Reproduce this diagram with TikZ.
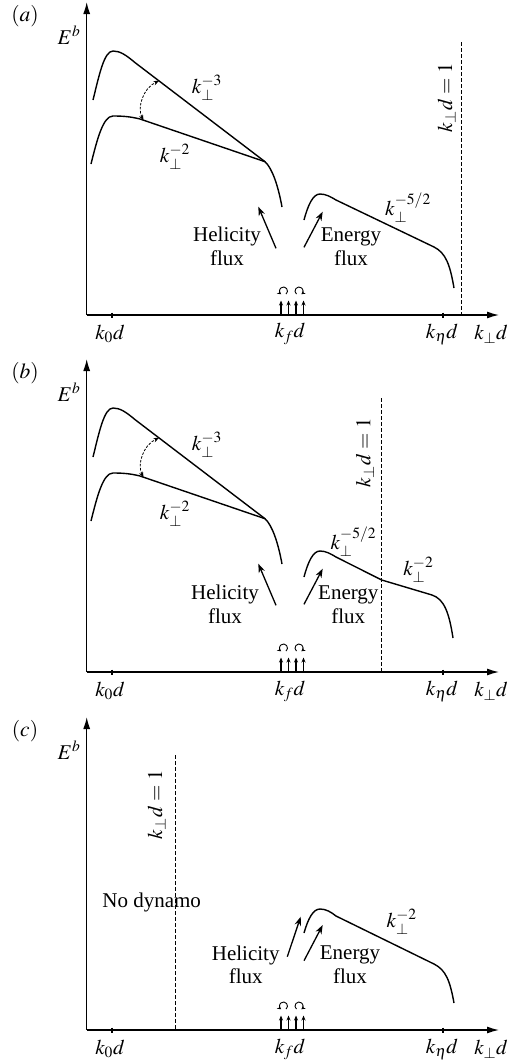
\documentclass[tikz,border=0pt]{standalone}
\usepackage{mathptmx}
\usepackage{fontspec}
\setmainfont{Liberation Serif}
\usepackage{tikz}
\usetikzlibrary{arrows.meta}
\tikzset{
  axis/.style={line width=1.3pt, -{Latex[length=12pt,width=7pt]}},
  spectrum/.style={line width=1.4pt, line join=round},
  cutoff/.style={line width=0.8pt, dash pattern=on 3.5pt off 2.5pt},
  tickmark/.style={line width=1.6pt},
  fluxarrow/.style={line width=1.3pt, -{Stealth[length=9pt,width=6.5pt]}},
  force/.style={line width=1.1pt, -{Stealth[length=5pt,width=4pt]}},
  swirl/.style={line width=0.9pt, -{Stealth[length=4pt,width=4pt]}},
  transfer/.style={line width=0.8pt, dash pattern=on 2.5pt off 1.5pt,
                   {Stealth[length=5.5pt,width=4.5pt]}-{Stealth[length=5.5pt,width=4.5pt]}},
  txt/.style={font=\fontsize{21}{23.5}\selectfont, inner sep=0pt, align=center},
  slopelabel/.style={txt},
  paneltag/.style={font=\fontsize{21.5}{24}\selectfont, inner sep=0pt}
}
\newcommand{\spectrumframe}[1]{%
  % Axes, the three marked wavenumbers and the forcing at k_f.
  \coordinate (#1-origin) at (86.7,315);
  \coordinate (#1-ytop) at (86.7,2);
  \coordinate (#1-xend) at (499,315);
  \draw[axis] (#1-origin) -- (#1-ytop);
  \draw[axis] (#1-origin) -- (#1-xend);
  \node[paneltag] (#1-tag) at (25,16) {$(#1)$};
  \node[txt] (#1-Eb) at (69,35) {$E^b$};
  \draw[tickmark] (111.7,312.5) -- (111.7,317.5);
  \draw[tickmark] (443,312.5) -- (443,317.5);
  \node[txt] (#1-k0) at (110,334) {$k_0 d$};
  \node[txt] (#1-kf) at (290,334) {$k_f d$};
  \node[txt] (#1-keta) at (442,334) {$k_\eta d$};
  \node[txt] (#1-kperp) at (491,334) {$k_\perp d$};
  \foreach \fx in {281,288.5,296,303.5}
    \draw[force] (\fx,315) -- (\fx,300.5);
  \draw[swirl] (283.5,291) ++(50:4) arc[start angle=50, end angle=-235, radius=4];
  \draw[swirl] (299,291) ++(130:4) arc[start angle=130, end angle=415, radius=4];
}
\newcommand{\inversepair}[1]{%
  % Two large-scale spectra joined by the dashed exchange arrow.
  \draw[spectrum] (93,100) .. controls (99,76) and (104,51) .. (113,51)
    .. controls (120,51) and (126,55) .. (135,62.6) -- (265,161.7)
    .. controls (272,168) and (278,185) .. (282,207);
  \draw[spectrum] (91,164) .. controls (97,140) and (103,116) .. (113,116)
    .. controls (122,116) and (130,116.5) .. (140,119) -- (265,161.7);
  \coordinate (#1-low) at (143.5,120.2);
  \coordinate (#1-up) at (159,80.9);
  \draw[transfer] (#1-low) .. controls (137,108) and (143,88) .. (#1-up);
  \node[slopelabel] (#1-m3) at (207,88) {$k_\perp^{-3}$};
  \node[slopelabel] (#1-m2) at (175,157) {$k_\perp^{-2}$};
}

\begin{document}
\begin{tikzpicture}[x=1pt,y=-1pt]
  \path[use as bounding box] (0,0) rectangle (509,1060);

  % -------------------------------------------------------------------------
  % (a) cut-off beyond the dissipation scale
  \spectrumframe{a}
  \inversepair{a}
  \coordinate (a-cut-top) at (461.7,42);
  \coordinate (a-cut-bot) at (461.7,315);
  \draw[cutoff] (a-cut-top) -- (a-cut-bot);
  \node[txt,rotate=90] (a-cut) at (446.7,98) {$k_\perp d = 1$};
  \draw[spectrum] (304,220) .. controls (308,205) and (313,194) .. (320,194)
    .. controls (326,194) and (331,197) .. (336,200) -- (434,247)
    .. controls (446,253) and (450,265) .. (454,288);
  \node[slopelabel] (a-m52) at (408,208) {$k_\perp^{-5/2}$};
  \node[txt] (a-hel) at (227,246.5) {Helicity\\flux};
  \node[txt] (a-ene) at (351,246.5) {Energy\\flux};
  \coordinate (a-hel-tail) at (276,248.3);
  \coordinate (a-hel-head) at (258.3,206.7);
  \coordinate (a-ene-tail) at (304,247.3);
  \coordinate (a-ene-head) at (322.7,211.7);
  \draw[fluxarrow] (a-hel-tail) -- (a-hel-head);
  \draw[fluxarrow] (a-ene-tail) -- (a-ene-head);

  % -------------------------------------------------------------------------
  % (b) cut-off inside the inertial range
  \begin{scope}[yshift=-357pt]
    \spectrumframe{b}
    \inversepair{b}
    \coordinate (b-cut-top) at (381.7,41);
    \coordinate (b-cut-bot) at (381.7,315);
    \draw[cutoff] (b-cut-top) -- (b-cut-bot);
    \node[txt,rotate=90] (b-cut) at (365,96) {$k_\perp d = 1$};
    \draw[spectrum] (304,220) .. controls (308,205) and (313,194) .. (320,194)
      .. controls (326,194) and (331,197) .. (336,200) -- (381.7,223)
      -- (432,238) .. controls (444,242) and (449,255) .. (453,281);
    \node[slopelabel] (b-m52) at (353.3,184.7) {$k_\perp^{-5/2}$};
    \node[slopelabel] (b-m2r) at (418.3,213) {$k_\perp^{-2}$};
    \node[txt] (b-hel) at (225,247.5) {Helicity\\flux};
    \node[txt] (b-ene) at (348.3,247.5) {Energy\\flux};
    \coordinate (b-hel-tail) at (276,248.3);
    \coordinate (b-hel-head) at (258.3,206.7);
    \coordinate (b-ene-tail) at (304,247.3);
    \coordinate (b-ene-head) at (322.7,211.7);
    \draw[fluxarrow] (b-hel-tail) -- (b-hel-head);
    \draw[fluxarrow] (b-ene-tail) -- (b-ene-head);
  \end{scope}

  % -------------------------------------------------------------------------
  % (c) cut-off at large scales: no dynamo
  \begin{scope}[yshift=-715pt]
    \spectrumframe{c}
    \coordinate (c-cut-top) at (175.7,40);
    \coordinate (c-cut-bot) at (175.7,315);
    \draw[cutoff] (c-cut-top) -- (c-cut-bot);
    \node[txt,rotate=90] (c-cut) at (156.7,90) {$k_\perp d = 1$};
    \node[txt] (c-nodyn) at (151.7,187.7) {No dynamo};
    \draw[spectrum] (304,218) .. controls (308,204) and (313,194) .. (320,194)
      .. controls (326,194) and (331,197) .. (336,201) -- (434,249)
      .. controls (446,255) and (450,266) .. (454,288);
    \node[slopelabel] (c-m2) at (401.7,206.7) {$k_\perp^{-2}$};
    \node[txt] (c-hel) at (245.7,249.8) {Helicity\\flux};
    \node[txt] (c-ene) at (350,249.8) {Energy\\flux};
    \coordinate (c-hel-tail) at (287.3,241.7);
    \coordinate (c-hel-head) at (300.7,201.7);
    \coordinate (c-ene-tail) at (304,245.7);
    \coordinate (c-ene-head) at (322.7,210);
    \draw[fluxarrow] (c-hel-tail) -- (c-hel-head);
    \draw[fluxarrow] (c-ene-tail) -- (c-ene-head);
  \end{scope}
\end{tikzpicture}
\end{document}
